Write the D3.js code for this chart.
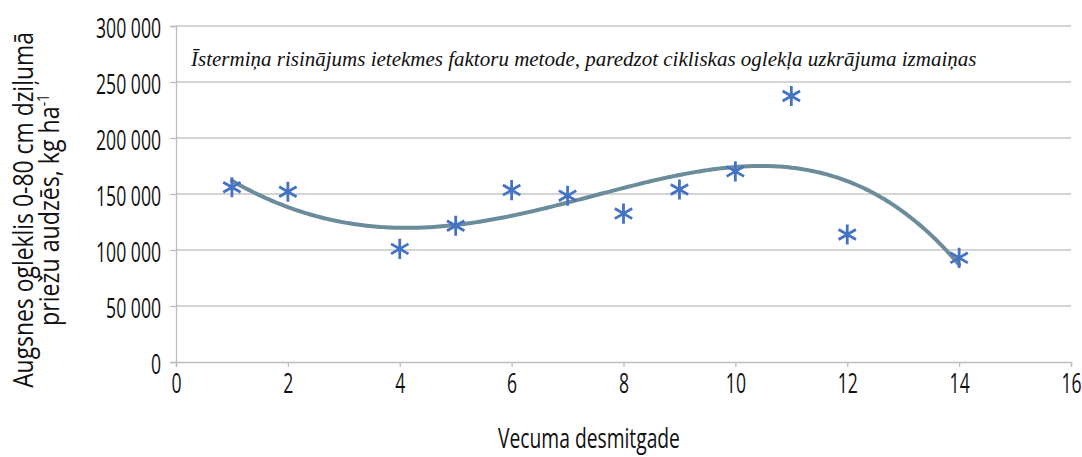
<!DOCTYPE html>
<html><head><meta charset="utf-8">
<script src="https://cdn.jsdelivr.net/npm/d3@7"></script>
<style>
body{margin:0;background:#fff;}
svg{display:block;}
</style></head>
<body>
<svg id="c" width="1082" height="457"></svg>
<script>
const decades = [1, 2, 4, 5, 6, 7, 8, 9, 10, 11, 12, 14];
const carbon = [156000, 152000, 101000, 121700, 153500, 148500, 132500, 154000, 170200, 237500, 113800, 93000];
const xTicks = [0, 2, 4, 6, 8, 10, 12, 14, 16];
const yTicks = [0, 50000, 100000, 150000, 200000, 250000, 300000];
const trendOrder = 4;
const title = "Īstermiņa risinājums ietekmes faktoru metode, paredzot cikliskas oglekļa uzkrājuma izmaiņas";
const xTitle = "Vecuma desmitgade";
const yTitle1 = "Augsnes ogleklis 0-80 cm dziļumā";
const yTitle2 = "priežu audzēs, kg ha";
const yTitle2Sup = "-1";

const svg = d3.select("#c");
const m = {l:176, r:1071, t:26, b:362};
const x = d3.scaleLinear().domain([0,16]).range([m.l, m.r]);
const y = d3.scaleLinear().domain([0,300000]).range([m.b, m.t]);
const font = '"Open Sans","Noto Sans",sans-serif';

function squeeze(sel, k) {
  sel.each(function(){
    const t = d3.select(this);
    const x0 = +t.attr("x") || 0;
    t.attr("x", x0 / k).attr("transform", `scale(${k},1)`);
  });
}

// gridlines
svg.append("g").selectAll("line").data(yTicks.filter(d=>d>0)).join("line")
  .attr("x1", m.l).attr("x2", m.r).attr("y1", d=>y(d)).attr("y2", d=>y(d))
  .attr("stroke", "#c6c6c6").attr("stroke-width", 1.3);

// axes
const fmt = d => d3.format(",")(d).replace(/,/g, " ");
const yAxis = svg.append("g").attr("transform", `translate(${m.l},0)`)
  .call(d3.axisLeft(y).tickValues(yTicks).tickFormat(fmt).tickSize(6).tickPadding(9));
const xAxis = svg.append("g").attr("transform", `translate(0,${m.b})`)
  .call(d3.axisBottom(x).tickValues(xTicks).tickSize(5).tickPadding(5));
[yAxis, xAxis].forEach(a => {
  a.select(".domain").attr("stroke", "#bdbdbd").attr("stroke-width", 1.3);
  a.selectAll(".tick line").attr("stroke", "#bdbdbd").attr("stroke-width", 1.3);
  a.selectAll(".tick text").attr("fill", "#111").style("font-size", "28px")
    .style("font-family", font).style("font-weight", 500);
});
yAxis.selectAll(".tick text").attr("dy", "0.4em");
xAxis.selectAll(".tick text").attr("dy", "0.74em");
const refW = yAxis.selectAll(".tick text").nodes().slice(-1)[0].getComputedTextLength();
const kTick = 65 / refW;
squeeze(yAxis.selectAll(".tick text"), kTick);
squeeze(xAxis.selectAll(".tick text"), kTick);

// polynomial least squares trendline computed from the data
function polyfit(xs, ys, n) {
  const N = n + 1;
  const A = Array.from({length:N}, () => new Array(N+1).fill(0));
  for (let k = 0; k < xs.length; k++) {
    for (let i = 0; i < N; i++) {
      for (let j = 0; j < N; j++) A[i][j] += Math.pow(xs[k], i + j);
      A[i][N] += ys[k] * Math.pow(xs[k], i);
    }
  }
  for (let i = 0; i < N; i++) {
    let p = i;
    for (let r = i+1; r < N; r++) if (Math.abs(A[r][i]) > Math.abs(A[p][i])) p = r;
    [A[i], A[p]] = [A[p], A[i]];
    for (let r = 0; r < N; r++) if (r !== i) {
      const f = A[r][i] / A[i][i];
      for (let c = i; c <= N; c++) A[r][c] -= f * A[i][c];
    }
  }
  return A.map((row, i) => row[N] / row[i]);
}
const coef = polyfit(decades, carbon, trendOrder);
const pv = t => coef.reduce((s, c, i) => s + c * Math.pow(t, i), 0);
const tx = d3.range(decades[0], decades[decades.length-1] + 0.001, 0.05);
svg.append("path").datum(tx)
  .attr("d", d3.line().x(t => x(t)).y(t => y(pv(t))))
  .attr("fill", "none").attr("stroke", "#6b8c9b").attr("stroke-width", 4).attr("stroke-linecap", "round");

// markers
svg.append("g").selectAll("path").data(decades.map((d,i)=>[d, carbon[i]])).join("path")
  .attr("transform", d => `translate(${x(d[0])},${y(d[1])})`)
  .attr("d", d3.symbol(d3.symbolAsterisk, 285))
  .attr("fill", "none").attr("stroke", "#4472c4").attr("stroke-width", 2.8);

// title
svg.append("text").attr("x", 191).attr("y", 66)
  .style("font-family", '"Liberation Serif","DejaVu Serif",serif').style("font-style", "italic")
  .style("font-size", "21px").attr("fill", "#111").text(title);

// axis titles
function fitted(parent, tx, ty, rot, target, size) {
  const g = parent.append("g").attr("transform", `translate(${tx},${ty}) rotate(${rot})`);
  const t = g.append("text").attr("text-anchor", "middle")
    .style("font-family", font).style("font-size", size + "px").style("font-weight", 500).attr("fill", "#111");
  return {g, t, fit() {
    const w = t.node().getComputedTextLength();
    t.attr("transform", `scale(${target / w},1)`);
  }};
}
const xt = fitted(svg, 589, 448, 0, 182, 28);
xt.t.text(xTitle); xt.fit();

const y1 = fitted(svg, 33, 210, -90, 356, 27);
y1.t.text(yTitle1); y1.fit();
const y2 = fitted(svg, 59, 210, -90, 232, 27);
y2.t.text(yTitle2);
y2.t.append("tspan").attr("dy", -10).style("font-size", "16px").text(yTitle2Sup);
y2.fit();
</script>
</body></html>
